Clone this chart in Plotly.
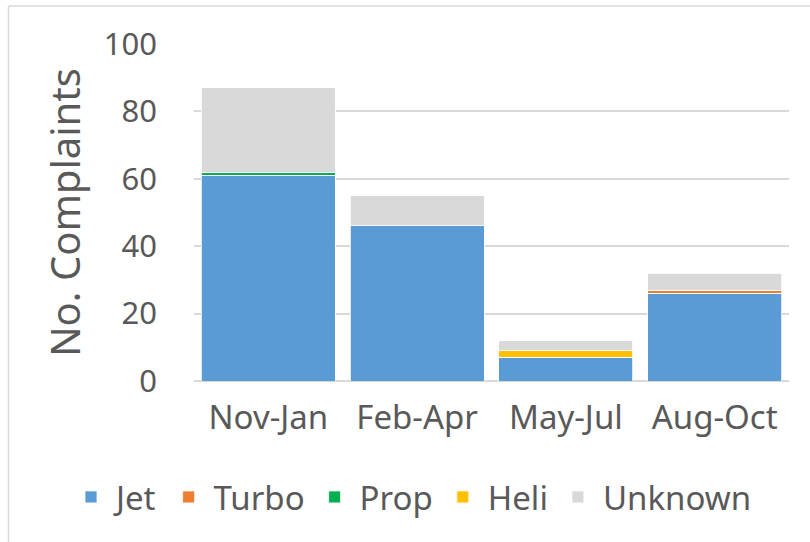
import plotly.graph_objects as go

categories = ["Nov-Jan", "Feb-Apr", "May-Jul", "Aug-Oct"]
jet = [61, 46, 7, 26]
turbo = [0, 0, 0, 1]
prop = [1, 0, 0, 0]
heli = [0, 0, 2, 0]
unknown = [25, 9, 3, 5]
y_ticks = [0, 20, 40, 60, 80, 100]

series = [
    ("Jet", jet, "#5b9bd5"),
    ("Turbo", turbo, "#ed7d31"),
    ("Prop", prop, "#00b050"),
    ("Heli", heli, "#ffc000"),
    ("Unknown", unknown, "#d9d9d9"),
]

FONT = "Noto Sans"
TXT = "#595959"

W, H = 810, 542
PL, PR, PT, PB = 194, 789, 44, 381
PW, PH = PR - PL, PB - PT

fig = go.Figure()
for name, vals, col in series:
    fig.add_trace(go.Bar(
        name=name, x=categories, y=vals, legendgroup=name,
        marker=dict(color=col, line=dict(color="white", width=0.8)),
    ))

fig.update_layout(
    barmode="stack",
    bargap=0.1,
    width=W, height=H,
    margin=dict(l=PL, r=W - PR, t=PT, b=H - PB, autoexpand=False),
    paper_bgcolor="white", plot_bgcolor="white",
    font=dict(family=FONT, color=TXT, size=30),
    legend=dict(
        orientation="h",
        x=(66 - PL) / PW, xanchor="left",
        y=-(497 - PB) / PH, yanchor="middle",
        font=dict(size=33, color=TXT), itemwidth=40, traceorder="normal",
        tracegroupgap=14, itemclick=False,
    ),
    xaxis=dict(
        showgrid=False, showline=False, ticks="",
        tickfont=dict(size=33, color=TXT), ticklabelstandoff=14,
    ),
    yaxis=dict(
        range=[0, 100], tickvals=y_ticks, showgrid=True,
        gridcolor="#d9d9d9", gridwidth=1.5,
        zeroline=True, zerolinecolor="#d9d9d9", zerolinewidth=1.5,
        tickfont=dict(size=31, color=TXT), ticklabelstandoff=36,
        title=dict(text="No. Complaints", font=dict(size=40, color=TXT), standoff=10),
    ),
    shapes=[
        dict(type="line", xref="paper", yref="paper",
             x0=(8.5 - PL) / PW, x1=(8.5 - PL) / PW,
             y0=(PB - 545) / PH, y1=(PB - 6) / PH,
             line=dict(color="#d9d9d9", width=1.5), layer="below"),
        dict(type="line", xref="paper", yref="paper",
             x0=(8.5 - PL) / PW, x1=(815 - PL) / PW,
             y0=(PB - 6) / PH, y1=(PB - 6) / PH,
             line=dict(color="#d9d9d9", width=1.5), layer="below"),
    ],
)

fig.write_html(
    "out.html",
    config={"displayModeBar": False},
    post_script="document.body.style.margin='0';document.body.style.overflow='hidden';",
)
